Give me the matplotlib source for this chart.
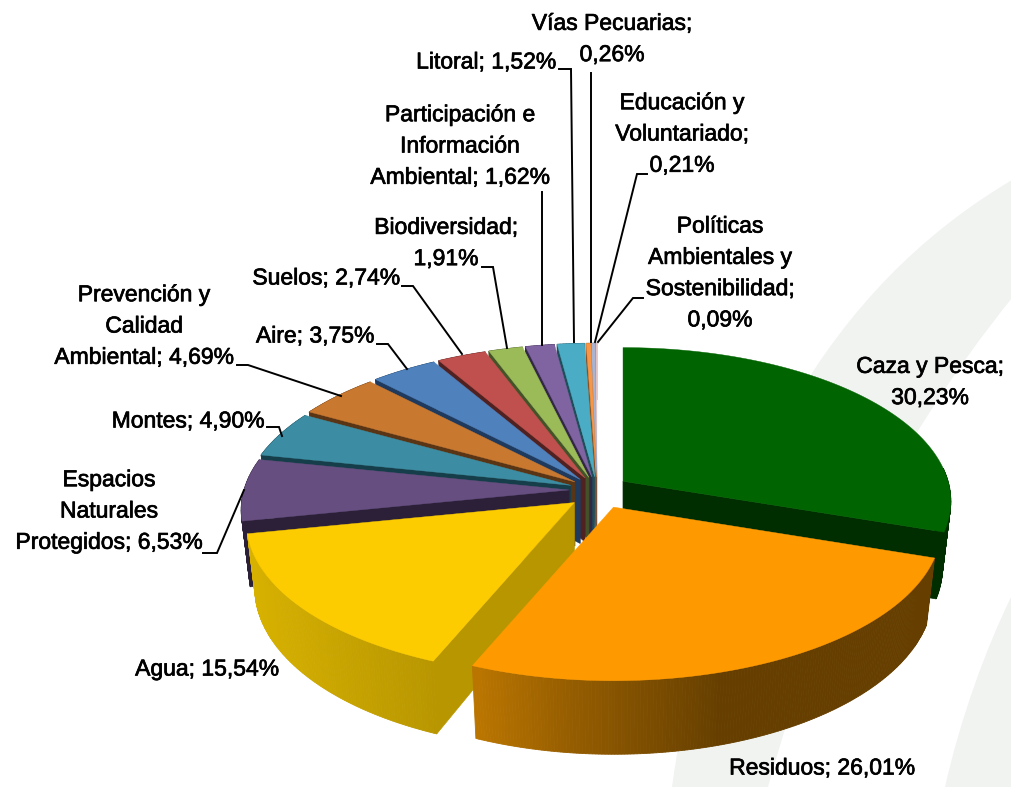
"""Exploded 3D pie of environmental budget shares, drawn with patches on a pixel-sized axes."""
import numpy as np
import matplotlib
matplotlib.use("Agg")
import matplotlib.pyplot as plt
import matplotlib.patheffects as pe
from matplotlib.patches import PathPatch, Polygon
from matplotlib.path import Path
from matplotlib.colors import to_rgb

values = [30.23, 26.01, 15.54, 6.53, 4.90, 4.69, 3.75, 2.74, 1.91, 1.62, 1.52, 0.26, 0.21, 0.09]
top_colors = ["#006400", "#ff9900", "#fccb00", "#674e80", "#3c8da3", "#c9782f", "#4f81bd",
              "#c0504d", "#9bbb59", "#8064a2", "#4bacc6", "#f79646", "#aab4d0", "#e8c8c8"]
wall_colors = ["#002e00", "#663f00", "#b89600", "#2c2038", "#163e4a", "#5a3515", "#1f3a5c",
               "#4f2120", "#445228", "#332844", "#1f4e5a", "#8a4f20", "#5a6078", "#8a7070"]

labels = ["Caza y Pesca;\n30,23%", "Residuos; 26,01%", "Agua; 15,54%",
          "Espacios\nNaturales\nProtegidos; 6,53%", "Montes; 4,90%",
          "Prevención y\nCalidad\nAmbiental; 4,69%", "Aire; 3,75%", "Suelos; 2,74%",
          "Biodiversidad;\n1,91%", "Participación e\nInformación\nAmbiental; 1,62%",
          "Litoral; 1,52%", "Vías Pecuarias;\n0,26%", "Educación y\nVoluntariado;\n0,21%",
          "Políticas\nAmbientales y\nSostenibilidad;\n0,09%"]
label_xy = [(930, 382), (822, 768), (207, 669), (109, 511), (188, 421), (144, 326), (315, 336),
            (326, 278), (446, 243), (460, 146), (486, 62), (612, 39), (682, 134), (720, 273)]
leaders = [None, None, None,
           [(203, 553), (217, 553), (244, 490)],
           [(267, 427), (279, 427), (282, 436)],
           [(237, 365), (248, 365), (341, 396)],
           [(377, 344), (388, 344), (407, 369)],
           [(402, 286), (413, 286), (462, 354)],
           [(482, 267), (493, 267), (507, 348)],
           [(542, 192), (542, 345)],
           [(559, 69), (571, 69), (574, 342)],
           [(591, 73), (591, 342)],
           [(647, 174), (637, 174), (595, 342)],
           [(643, 298), (633, 298), (598, 342)]]

# pie geometry in pixels
HUB = (597, 490)
EXPLODE = [32, 40, 32] + [28] * 11
NUDGE = {2: (2, 3)}
SQUASH = 0.47
RX, RY = 325, 151
PERSP = 0.13
HEIGHT = 64
BOTTOM_X = 0.975

plt.rcParams["font.family"] = ["Liberation Sans", "DejaVu Sans"]

fig = plt.figure(figsize=(10.12, 7.87), dpi=100)
ax = fig.add_axes([0, 0, 1, 1])
ax.set_xlim(0, 1012)
ax.set_ylim(787, 0)
ax.axis("off")

# pale swooshes behind the chart
BAND = "#f1f3f1"
ax.add_patch(PathPatch(Path(
    [(1012, 180), (860, 270), (720, 440), (672, 787), (768, 787), (820, 600), (890, 450), (1012, 298), (1012, 180)],
    [Path.MOVETO, Path.CURVE4, Path.CURVE4, Path.CURVE4, Path.LINETO,
     Path.CURVE4, Path.CURVE4, Path.CURVE4, Path.CLOSEPOLY]), fc=BAND, ec="none", zorder=0))
ax.add_patch(PathPatch(Path(
    [(1012, 595), (985, 650), (960, 720), (945, 787), (1012, 787), (1012, 595)],
    [Path.MOVETO, Path.CURVE4, Path.CURVE4, Path.CURVE4, Path.LINETO, Path.CLOSEPOLY]),
    fc=BAND, ec="none", zorder=0))


def tip_of(i, mid):
    t = np.radians(mid)
    dx, dy = NUDGE.get(i, (0, 0))
    return (HUB[0] + EXPLODE[i] * np.sin(t) + dx,
            HUB[1] - EXPLODE[i] * SQUASH * np.cos(t) + dy)


def rim_top(tip, angle):
    t = np.radians(angle)
    u, v = np.sin(t), np.cos(t)
    s = 1 / (1 + PERSP * v)
    return tip[0] + RX * u * s, tip[1] - RY * v * s


def rim_bottom(tip, angle):
    t = np.radians(angle)
    u, v = np.sin(t), np.cos(t)
    s = 1 / (1 + PERSP * v)
    return tip[0] + BOTTOM_X * RX * u * s, tip[1] - RY * v * s + HEIGHT * s


def face(tip, angle, color, z):
    pts = [tip, rim_top(tip, angle), rim_bottom(tip, angle), (tip[0], tip[1] + HEIGHT)]
    ax.add_patch(Polygon(pts, closed=True, fc=color, ec=color, lw=0.5, zorder=z))


def outer_wall(tip, a0, a1, stops, z):
    """Rim wall as thin quads so the shading can run along the x position."""
    angles = np.linspace(a0, a1, max(int(abs(a1 - a0) * 2), 3))
    xs = [p[0] for p in stops]
    cols = np.array([to_rgb(p[1]) for p in stops])
    for a, b in zip(angles[:-1], angles[1:]):
        pts = [rim_top(tip, a), rim_top(tip, b), rim_bottom(tip, b), rim_bottom(tip, a)]
        xm = (pts[0][0] + pts[1][0]) / 2
        col = [np.interp(xm, xs, cols[:, i]) for i in range(3)]
        ax.add_patch(Polygon(pts, closed=True, fc=col, ec=col, lw=0.6, zorder=z))


def top(tip, a0, a1, color, z):
    angles = np.linspace(a0, a1, max(int(abs(a1 - a0) * 2), 3))
    pts = [tip] + [rim_top(tip, a) for a in angles]
    ax.add_patch(Polygon(pts, closed=True, fc=color, ec=color, lw=0.3, zorder=z))


edges = np.concatenate([[0], np.cumsum(values)]) / sum(values) * 360
mids = (edges[:-1] + edges[1:]) / 2

# small slices go back to front, the three big ones last
z = 2
for i in range(len(values) - 1, 2, -1):
    tip = tip_of(i, mids[i])
    outer_wall(tip, edges[i], edges[i + 1], [(0, wall_colors[i]), (1012, wall_colors[i])], z)
    face(tip, edges[i], wall_colors[i], z)
    top(tip, edges[i], edges[i + 1], top_colors[i], z + 1)
    z += 2

# Caza y Pesca
tip = tip_of(0, mids[0])
outer_wall(tip, 85, edges[1], [(0, wall_colors[0]), (1012, wall_colors[0])], z)
face(tip, edges[1], wall_colors[0], z)
top(tip, edges[0], edges[1], top_colors[0], z + 1)
z += 2

# Agua
tip = tip_of(2, mids[2])
outer_wall(tip, edges[2], edges[3], [(245, "#d8b200"), (435, "#b89600")], z)
face(tip, edges[2], wall_colors[2], z)
top(tip, edges[2], edges[3], top_colors[2], z + 1)
z += 2

# Residuos
tip = tip_of(1, mids[1])
outer_wall(tip, edges[1], edges[2], [(478, "#ba7500"), (570, "#955d00"), (720, "#663f00"), (935, "#663f00")], z)
top(tip, edges[1], edges[2], top_colors[1], z + 1)
z += 2

for i, txt in enumerate(labels):
    ax.text(label_xy[i][0], label_xy[i][1], txt, ha="center", va="center", fontsize=16.5,
            color="black", linespacing=1.46, zorder=z + 1,
            path_effects=[pe.withStroke(linewidth=0.5, foreground="black")])
    if leaders[i] is not None:
        ax.plot(*zip(*leaders[i]), color="black", lw=1.4, solid_joinstyle="miter", zorder=z)

fig.savefig("out.png", dpi=100)
